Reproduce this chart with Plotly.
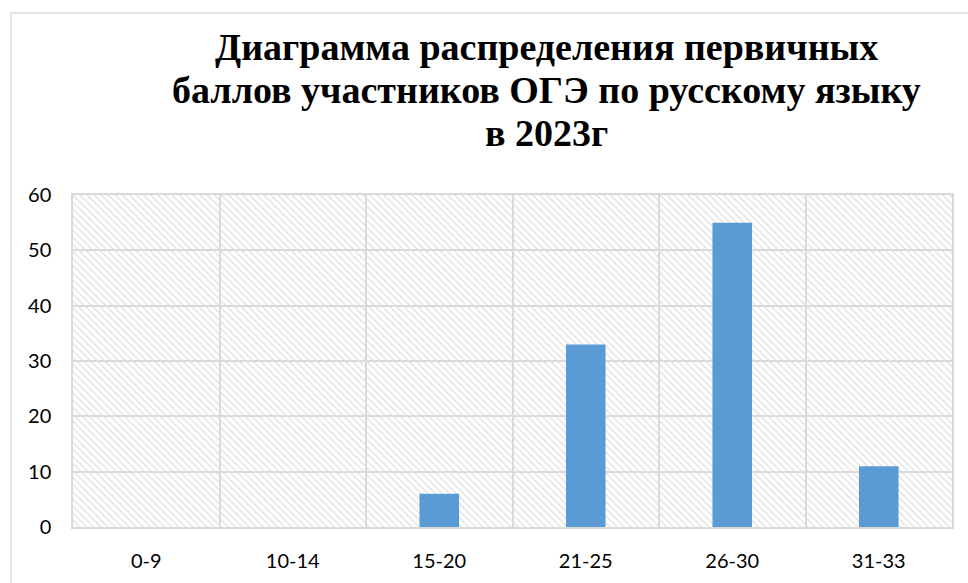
import plotly.graph_objects as go

categories = ["0-9", "10-14", "15-20", "21-25", "26-30", "31-33"]
values = [0, 0, 6, 33, 55, 11]
y_ticks = [0, 10, 20, 30, 40, 50, 60]
title_lines = ["Диаграмма распределения первичных",
               "баллов участников ОГЭ по русскому языку",
               "в 2023г"]

W, H = 968, 583
L, R, T, B = 73, 16, 195, 56
ymax = y_ticks[-1]
pw = W - L - R
ph = H - T - B

fig = go.Figure()
# hatched plot background (transparent gaps let the grid show through)
fig.add_trace(go.Bar(
    x=categories, y=[ymax] * len(categories), width=1,
    marker=dict(color="rgba(0,0,0,0)", line=dict(width=0),
                pattern=dict(shape="\\", size=5, solidity=0.25,
                             fgcolor="#dedede", fillmode="replace")),
    hoverinfo="skip", showlegend=False))
fig.add_trace(go.Bar(
    x=categories, y=values, width=0.27,
    marker=dict(color="#5B9BD5", line=dict(width=0)),
    showlegend=False))

# outer chart border
fig.add_shape(type="rect", xref="paper", yref="paper",
              x0=(11 - L) / pw, x1=(W + 20 - L) / pw,
              y0=-(B + 20) / ph, y1=((H - B) - 13) / ph,
              line=dict(color="#d9d9d9", width=1.5), fillcolor="rgba(0,0,0,0)",
              layer="below")

# title lines (explicit positions for tight line spacing)
baselines = [59, 102, 145]
for line, base in zip(title_lines, baselines):
    cy = base - 12
    fig.add_annotation(text=line, xref="paper", yref="paper",
                       x=(546 - L) / pw, y=((H - B) - cy) / ph,
                       xanchor="center", yanchor="middle", showarrow=False,
                       font=dict(family="Liberation Serif", size=38,
                                 color="black", weight="bold"))

fig.update_layout(
    width=W, height=H,
    margin=dict(l=L, r=R, t=T, b=B, autoexpand=False),
    paper_bgcolor="white", plot_bgcolor="white",
    barmode="overlay",
    font=dict(family="Lato", size=20, color="black"),
)
fig.update_xaxes(type="category", tickson="boundaries", showgrid=True,
                 gridcolor="#d9d9d9", gridwidth=1.5, ticks="",
                 showline=True, mirror=True, linecolor="#d9d9d9", linewidth=1.5,
                 ticklabelstandoff=15, automargin=False,
                 range=[-0.5, len(categories) - 0.5])
fig.update_yaxes(range=[0, ymax], tickvals=y_ticks, showgrid=True,
                 gridcolor="#d9d9d9", gridwidth=1.5, zeroline=False, ticks="",
                 showline=True, mirror=True, linecolor="#d9d9d9", linewidth=1.5,
                 ticklabelstandoff=16, automargin=False)

fig.write_html("out.html", config={"displayModeBar": False},
               post_script="document.body.style.margin='0';document.body.style.overflow='hidden';")
